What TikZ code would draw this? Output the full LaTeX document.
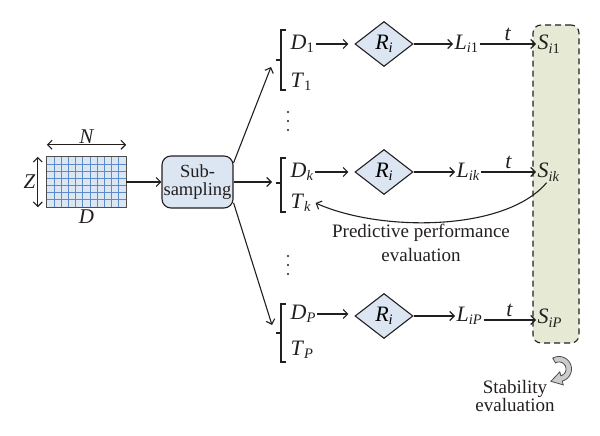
\documentclass[tikz,border=0pt]{standalone}
\usepackage{fontspec}
\setmainfont{Liberation Serif}
\usetikzlibrary{arrows.meta,shapes.geometric}
\definecolor{boxblue}{HTML}{DCE6F2}
\definecolor{gridblue}{HTML}{5B8BC9}
\definecolor{boxgreen}{HTML}{E6EAD5}
\definecolor{ink}{HTML}{231F20}
\newcommand\sbs[1]{\raisebox{-0.35ex}{\fontsize{14.5}{14.5}\selectfont #1}}
\newcommand\mvar[2]{\textit{#1}\sbs{#2}}
\begin{document}
\begin{tikzpicture}[x=1pt,y=-1pt,
  lbl/.style={font=\fontsize{19}{19}\selectfont, inner sep=1pt, text=ink},
  var/.style={font=\fontsize{22}{22}\selectfont, inner sep=1.5pt, anchor=west, text=ink},
  arr/.style={-{Straight Barb[length=4.5pt,width=9pt]}, line width=1.1pt, draw=ink},
  dim/.style={{Straight Barb[length=4.5pt,width=9pt]}-{Straight Barb[length=4.5pt,width=9pt]}, line width=1.1pt, draw=ink},
  brk/.style={line width=1.1pt, draw=ink},
  dia/.style={diamond, draw=ink, fill=boxblue, minimum width=58pt, minimum height=45pt, inner sep=0pt, line width=1.1pt, font=\fontsize{22}{22}\selectfont},
  dotf/.style={fill=ink}
]
\useasboundingbox (0,0) rectangle (600,436);

% data matrix
\node[fill=boxblue, minimum width=79pt, minimum height=50pt, inner sep=0pt] (grid) at (86.5,182) {};
\foreach \i in {1,...,10}
  \draw[gridblue, line width=1pt] ({47+\i*79/11},157) -- ({47+\i*79/11},207);
\foreach \j in {1,...,6}
  \draw[gridblue, line width=1pt] (47,{157+\j*50/7}) -- (126,{157+\j*50/7});
\draw[ink!80, line width=0.9pt] (grid.north west) rectangle (grid.south east);
\draw[dim] ([yshift=12pt]grid.north west) -- ([yshift=12pt]grid.north east)
  node[midway, above=0pt, lbl, font=\fontsize{21}{21}\selectfont\itshape] (N) {N};
\draw[dim] ([xshift=-9pt]grid.north west) -- ([xshift=-9pt]grid.south west)
  node[midway, left=1pt, lbl, font=\fontsize{21}{21}\selectfont\itshape] (Z) {Z};
\node[lbl, font=\fontsize{21}{21}\selectfont\itshape, below=1pt] (Dl) at (grid.south) {D};

% sub-sampling
\node[draw=ink, fill=boxblue, rounded corners=9pt, minimum width=71pt, minimum height=52pt,
  inner sep=0pt, line width=1.1pt, align=center, lbl, font=\fontsize{18.5}{18.5}\selectfont] (sub) at (197.5,182) {Sub-\\sampling};
\draw[arr] (grid.east) -- (sub.west);

% green stability box
\node[draw=ink, fill=boxgreen, dash pattern=on 6pt off 4pt, rounded corners=8pt, line width=1.1pt,
  minimum width=46pt, minimum height=318pt, inner sep=0pt] (sbox) at (556,184) {};

% brackets
\coordinate (b1) at (281,60);
\coordinate (bk) at (281,183);
\coordinate (bp) at (281,333);
\draw[brk] (b1) ++(5,-30) -- ++(-5,0) -- ++(0,60) -- ++(5,0);
\draw[brk] (b1) -- ++(-5,0);
\draw[brk] (bk) ++(5,-25) -- ++(-5,0) -- ++(0,54) -- ++(5,0);
\draw[brk] (bk) -- ++(-5,0);
\draw[brk] (bp) ++(5,-29) -- ++(-5,0) -- ++(0,58) -- ++(5,0);
\draw[brk] (bp) -- ++(-5,0);

\coordinate (a1) at (271,67);
\coordinate (ak) at (272,182);
\coordinate (ap) at (272,325);
\draw[arr] (sub.28) -- (a1);
\draw[arr] (sub.east) -- (ak);
\draw[arr] (sub.-30) -- (ap);

% row 1
\node[var] (D1) at (289,44) {\mvar{D}{1}};
\node[var] (T1) at (289,82) {\mvar{T}{1}};
\node[dia] (R1) at (384,44) {\mvar{R}{\textit{i}}};
\node[var] (L1) at (453,44) {\mvar{L}{\textit{i}1}};
\node[var] (S1) at (536,44) {\mvar{S}{\textit{i}1}};
\draw[arr, shorten >=6pt] (D1.east) -- (R1.west);
\draw[arr] (R1.east) -- (L1.west);
\draw[arr] (L1.east) -- (S1.west) node[midway, above=1pt, var, anchor=south] (t1) {\textit{t}};

% row k
\node[var] (Dk) at (289,172) {\mvar{D}{\textit{k}}};
\node[var] (Tk) at (289,203) {\mvar{T}{\textit{k}}};
\node[dia] (Rk) at (384,172) {\mvar{R}{\textit{i}}};
\node[var] (Lk) at (455,172) {\mvar{L}{\textit{ik}}};
\node[var] (Sk) at (536,172) {\mvar{S}{\textit{ik}}};
\draw[arr, shorten >=6pt] (Dk.east) -- (Rk.west);
\draw[arr] (Rk.east) -- (Lk.west);
\draw[arr] (Lk.east) -- (Sk.west) node[midway, above=1pt, var, anchor=south] (tk) {\textit{t}};

% row P
\node[var] (DP) at (289,314) {\mvar{D}{\textit{P}}};
\node[var] (TP) at (289,350) {\mvar{T}{\textit{P}}};
\node[dia] (RP) at (384,316) {\mvar{R}{\textit{i}}};
\node[var] (LP) at (455,316) {\mvar{L}{\textit{iP}}};
\node[var] (SP) at (536,318) {\mvar{S}{\textit{iP}}};
\draw[arr, shorten >=6pt] (DP.east) -- (DP.east -| RP.west);
\draw[arr] (RP.east) -- (LP.west);
\draw[arr] ([yshift=-4pt]LP.east) -- ([yshift=-4pt]LP.east -| SP.west) node[midway, above=1pt, var, anchor=south] (tp) {\textit{t}};

% dots
\foreach \y in {112,121,130} \fill[dotf] (288,\y) circle (1.2pt);
\foreach \y in {256,265,274} \fill[dotf] (288,\y) circle (1.2pt);

% predictive performance evaluation
\draw[arr] ([xshift=-2pt]Sk.south) .. controls (505,232) and (380,232) .. ([xshift=3pt]Tk.east);
\node[lbl, align=center, font=\fontsize{19}{24}\selectfont] (pred) at (421,243) {Predictive performance\\evaluation};

% stability evaluation
\filldraw[fill=gray!40, draw=gray!60!black, line width=0.8pt]
  plot[domain=-120:75, samples=30] ({559+12.5*cos(\x)},{369+12.5*sin(\x)})
  -- (563.3,384.9) -- (550.9,381.3) -- (559.8,371.9)
  -- plot[domain=75:-120, samples=30] ({559+7*cos(\x)},{369+7*sin(\x)}) -- cycle;
\node[lbl, align=center, font=\fontsize{19}{18.5}\selectfont] (stab) at (515,396) {Stability\\evaluation};
\end{tikzpicture}
\end{document}
